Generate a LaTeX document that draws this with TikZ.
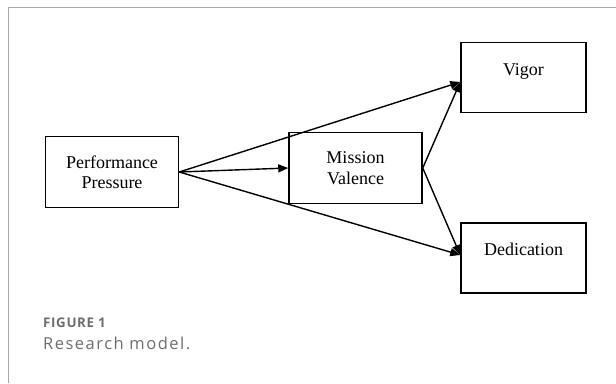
\documentclass[tikz,border=0pt]{standalone}
\usepackage{fontspec}
\setmainfont{Liberation Serif}
\newfontfamily\caplabelfont[LetterSpace=5]{Open Sans}
\newfontfamily\capwidefont[LetterSpace=9]{Open Sans}
\usetikzlibrary{arrows.meta}
\usetikzlibrary{positioning}
\definecolor{capgray}{HTML}{6D6E71}
\definecolor{framegray}{HTML}{A8A8A8}

\tikzset{
    varbox/.style={draw, line width=1.5pt, inner sep=0pt, align=center,
        font=\fontsize{18}{20.5}\selectfont},
    sidebox/.style={varbox, minimum width=133pt, minimum height=71pt},
    outbox/.style={varbox, minimum width=125pt, minimum height=70pt,
        text height=13pt, text depth=18pt},
    arr/.style={line width=1.4pt, -{Triangle[length=10pt,width=8pt]}}
}

\begin{document}
\begin{tikzpicture}[x=1pt, y=-1pt]
    \useasboundingbox (0,0) rectangle (616,383);

    % Frame
    \draw[framegray, line width=1pt] (616,7) -- (8,7) -- (8,383);

    % Predictor and mediator
    \node[sidebox] (pressure) at (112,172) {Performance\\Pressure};
    \node[sidebox] (valence) at (355.5,168) {Mission\\Valence};

    % Outcomes
    \node[outbox] (vigor) at (523.5,77.5) {Vigor};
    \node[outbox] (dedication) at (523.5,258) {Dedication};

    % Paths
    \draw[arr] (pressure.east) -- (valence.west);
    \draw[arr] (pressure.east) -- ([yshift=-4.5pt]vigor.west);
    \draw[arr] (pressure.east) -- ([yshift=3pt]dedication.west);
    \draw[arr] (valence.east) -- ([yshift=-4.5pt]vigor.west);
    \draw[arr] (valence.east) -- ([yshift=3pt]dedication.west);

    % Caption
    \node[anchor=base west, inner sep=0pt, text=capgray,
        font=\caplabelfont\bfseries\fontsize{13.3}{15}\selectfont] (figlabel) at (43,327.5) {FIGURE 1};
    \node[anchor=base west, inner sep=0pt, text=capgray,
        font=\capwidefont\fontsize{16.5}{20}\selectfont] (figcaption) at (43,349.5) {Research model.};
\end{tikzpicture}
\end{document}
